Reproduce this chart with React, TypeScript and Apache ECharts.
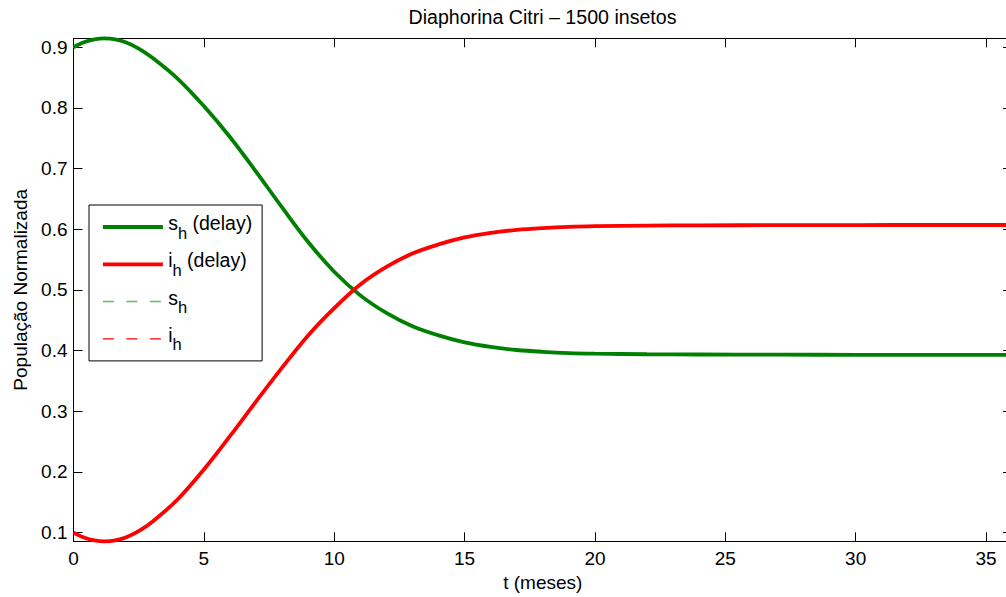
import React, { useEffect, useRef } from 'react';
import * as echarts from 'echarts';

// time (months)
const tMeses = [0, 0.4, 0.8, 1.2, 1.6, 2, 2.5, 3, 4, 5, 6, 7, 8, 9, 10, 11, 12, 13, 14, 15, 16, 17, 18, 19, 20, 22, 24, 27, 30, 33, 36];
// s_h with delay
const shDelay = [0.900, 0.9081, 0.9129, 0.9145, 0.9129, 0.9081, 0.8978, 0.8835, 0.848, 0.803, 0.752, 0.695, 0.636, 0.579, 0.530, 0.491, 0.462, 0.440, 0.425, 0.4135, 0.406, 0.401, 0.398, 0.396, 0.395, 0.394, 0.3936, 0.3933, 0.3931, 0.393, 0.393];
// i_h with delay
const ihDelay = [0.100, 0.0919, 0.0871, 0.0855, 0.0871, 0.0919, 0.1025, 0.117, 0.155, 0.204, 0.259, 0.316, 0.372, 0.425, 0.470, 0.509, 0.538, 0.560, 0.575, 0.5865, 0.594, 0.599, 0.602, 0.604, 0.605, 0.606, 0.6064, 0.6067, 0.6069, 0.607, 0.607];
// model without delay (hidden under the delay curves in the reference)
const shPlain = shDelay;
const ihPlain = ihDelay;

const xTicks = [0, 5, 10, 15, 20, 25, 30, 35];
const yTicks = [0.1, 0.2, 0.3, 0.4, 0.5, 0.6, 0.7, 0.8, 0.9];
const legendNames = ['s_h (delay)', 'i_h (delay)', 's_h', 'i_h'];

const FONT = "'Liberation Sans', Arial, Helvetica, sans-serif";

export default function App() {
  const ref = useRef<HTMLDivElement>(null);
  useEffect(() => {
    const chart = echarts.init(ref.current!, null, { renderer: 'svg' });
    const pairs = (ys: number[]) => tMeses.map((t, k) => [t, ys[k]]);
    const axisCommon = {
      type: 'value',
      axisLine: { show: true, onZero: false, lineStyle: { color: '#000', width: 1 } },
      splitLine: { show: false },
    };
    const txt = { color: '#000', fontFamily: FONT, fontSize: 19 };
    chart.setOption({
      animation: false,
      backgroundColor: '#fff',
      grid: { left: 73.5, top: 38.3, width: 938.6, height: 503, containLabel: false, outerBoundsMode: 'none' },
      graphic: [
        {
          type: 'text',
          x: 542.5,
          y: 17,
          style: {
            text: 'Diaphorina Citri – 1500 insetos',
            fill: '#000',
            fontSize: 19.6,
            fontFamily: FONT,
            align: 'center',
            verticalAlign: 'middle',
            textAlign: 'center',
            textVerticalAlign: 'middle',
          },
        },
      ],
      xAxis: [
        {
          ...axisCommon,
          min: 0,
          max: 36,
          position: 'bottom',
          axisTick: { show: true, inside: true, length: 9, customValues: xTicks, lineStyle: { color: '#000' } },
          axisLabel: { ...txt, customValues: xTicks, margin: 8 },
          name: 't (meses)',
          nameLocation: 'middle',
          nameGap: 31,
          nameTextStyle: { ...txt },
        },
        {
          ...axisCommon,
          min: 0,
          max: 36,
          position: 'top',
          axisTick: { show: true, inside: true, length: 9, customValues: xTicks, lineStyle: { color: '#000' } },
          axisLabel: { show: false },
        },
      ],
      yAxis: [
        {
          ...axisCommon,
          min: 0.0857,
          max: 0.9147,
          position: 'left',
          axisTick: { show: true, inside: true, length: 9, customValues: yTicks, lineStyle: { color: '#000' } },
          axisLabel: { ...txt, customValues: yTicks, margin: 6 },
          name: 'População Normalizada',
          nameLocation: 'middle',
          nameGap: 42,
          nameTextStyle: { ...txt },
        },
        {
          ...axisCommon,
          min: 0.0857,
          max: 0.9147,
          position: 'right',
          axisTick: { show: true, inside: true, length: 9, customValues: yTicks, lineStyle: { color: '#000' } },
          axisLabel: { show: false },
        },
      ],
      legend: {
        data: legendNames,
        orient: 'vertical',
        left: 89,
        top: 205,
        padding: [8, 10, 8, 12],
        itemGap: 9.3,
        itemWidth: 60,
        itemHeight: 14,
        borderColor: '#000',
        borderWidth: 1,
        borderRadius: 0,
        backgroundColor: '#fff',
        selectedMode: false,
        itemStyle: { opacity: 0, color: 'rgba(0,0,0,0)', borderWidth: 0 },
        lineStyle: { width: 'inherit', opacity: 1 },
        formatter: (name: string) => {
          const m = name.match(/^([si])_h(.*)$/);
          if (!m) return name;
          return '{sp| }{n|' + m[1] + '}{sub|h}' + (m[2] ? '{n|' + m[2] + '}' : '');
        },
        textStyle: {
          ...txt,
          rich: {
            n: { ...txt, fontSize: 19.5, lineHeight: 18, verticalAlign: 'top' },
            sub: { ...txt, fontSize: 16.5, lineHeight: 21, verticalAlign: 'bottom' },
            sp: { fontSize: 1, lineHeight: 28 },
          },
        },
      },
      series: [
        {
          type: 'line',
          name: 's_h',
          data: pairs(shPlain),
          symbol: 'none',
          smooth: 0.35,
          clip: false,
          z: 1,
          itemStyle: { color: '#66b866' },
          lineStyle: { color: '#66b866', width: 1.5, type: [11, 12.5] },
        },
        {
          type: 'line',
          name: 'i_h',
          data: pairs(ihPlain),
          symbol: 'none',
          smooth: 0.35,
          clip: false,
          z: 1,
          itemStyle: { color: '#ff0000' },
          lineStyle: { color: '#ff0000', width: 1.3, type: [11, 12.5] },
        },
        {
          type: 'line',
          name: 's_h (delay)',
          data: pairs(shDelay),
          symbol: 'none',
          smooth: 0.35,
          clip: false,
          z: 3,
          itemStyle: { color: '#008000' },
          lineStyle: { color: '#008000', width: 3.8 },
        },
        {
          type: 'line',
          name: 'i_h (delay)',
          data: pairs(ihDelay),
          symbol: 'none',
          smooth: 0.35,
          clip: false,
          z: 3,
          itemStyle: { color: '#ff0000' },
          lineStyle: { color: '#ff0000', width: 3.8 },
        },
      ],
    });
    return () => chart.dispose();
  }, []);
  return (
    <div
      ref={ref}
      style={{ position: 'fixed', left: 0, top: 0, width: 1006, height: 597, background: '#fff' }}
    />
  );
}
